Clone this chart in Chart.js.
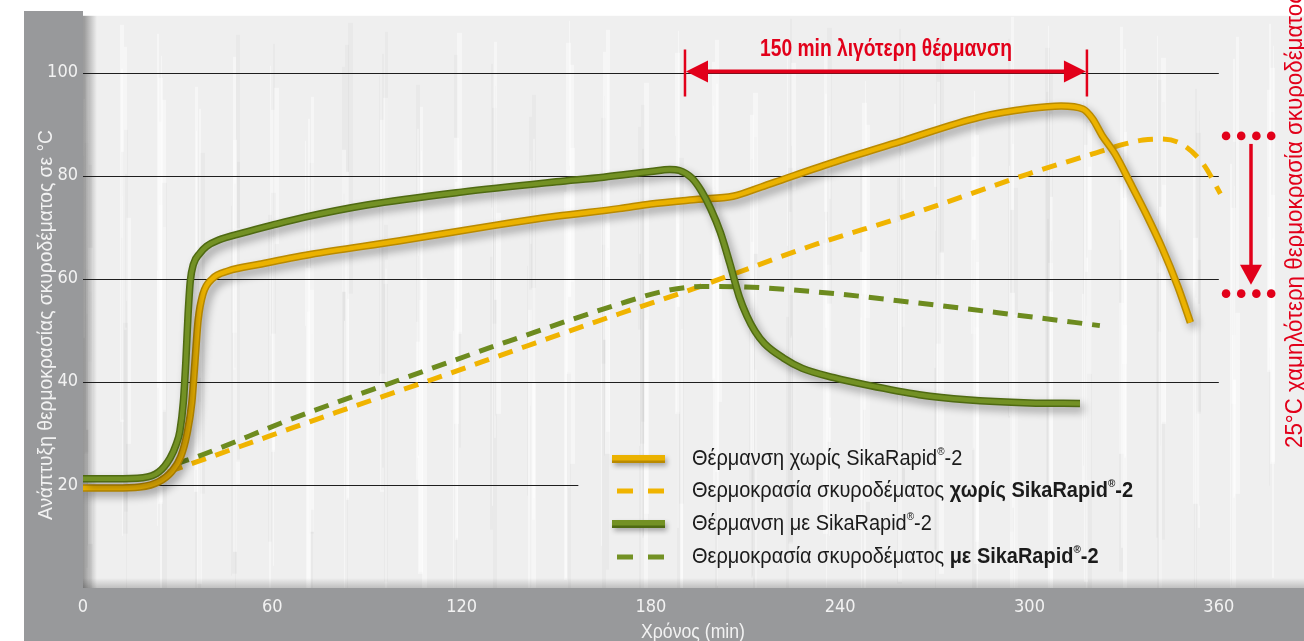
<!DOCTYPE html>
<html>
<head>
<meta charset="utf-8">
<script src="https://cdn.jsdelivr.net/npm/chart.js@4.4.1/dist/chart.umd.min.js"></script>
<style>
html,body{margin:0;padding:0;background:#fff;}
#wrap{width:1304px;height:641px;}
</style>
</head>
<body>
<div id="wrap"><canvas id="c" width="1304" height="641"></canvas></div>
<script>
// ---- data (minutes, °C) ----
const xTickValues = [0, 60, 120, 180, 240, 300, 360];
const yTickValues = [20, 40, 60, 80, 100];

const heatWithoutT = [0, 10, 18, 24, 28, 31, 33, 34.5, 35.5, 36.5, 38, 41, 46, 56, 72, 100, 130, 150, 170, 180, 195, 206, 215, 223, 240, 260, 284, 300, 310, 317, 320, 323, 327, 332, 337, 342, 347, 351];
const heatWithoutV = [19.4, 19.4, 19.6, 20.6, 22.5, 25.5, 30, 36, 44, 52, 57, 60, 61.5, 62.8, 64.7, 67.3, 70.3, 72.1, 73.6, 74.5, 75.4, 76, 77.8, 79.5, 83, 86.8, 91.3, 93, 93.5, 92.9, 91, 87.8, 84.3, 78.5, 72.5, 66, 58.5, 51.5];

const concreteWithoutT = [27, 50, 80, 110, 140, 170, 190, 204, 230, 262, 300, 320, 330, 336, 341, 348, 355, 360.5];
const concreteWithoutV = [22.5, 27.5, 34, 40.3, 46.8, 53.2, 57.3, 60.4, 66.2, 72.4, 80.4, 84.2, 86.1, 86.9, 87.1, 86.2, 82.3, 76.5];

const heatWithT = [0, 10, 19, 24, 27.6, 29.5, 30.7, 31.8, 32.6, 33.3, 34, 35, 37, 39.2, 43, 50.7, 60, 70, 90, 120, 150, 165, 180, 186, 189, 193, 196, 199, 202, 205, 208, 210.4, 213, 216, 222, 228, 238, 249, 265, 280, 300, 316];
const heatWithV = [21.2, 21.2, 21.4, 22.5, 25.2, 27.8, 30.4, 36, 44, 53, 59.5, 62.8, 64.9, 66.3, 67.5, 68.9, 70.4, 71.9, 74.3, 76.8, 78.8, 79.7, 80.8, 81.2, 81, 79.5, 77, 73.5, 69, 63, 56.5, 52.8, 49.8, 47.4, 44.6, 42.6, 40.8, 39.3, 37.5, 36.5, 35.9, 35.8];

const concreteWithT = [29, 35, 66.6, 100, 135, 170, 185, 196.5, 210, 223, 240, 263, 290, 322.3];
const concreteWithV = [24, 25.2, 32.9, 40.3, 47.9, 55.1, 57.7, 58.5, 58.4, 57.9, 57, 55.4, 53.4, 50.9];

const seriesLabels = [
  [{t:'Θέρμανση χωρίς SikaRapid'},{t:'®',sup:true},{t:'-2'}],
  [{t:'Θερμοκρασία σκυροδέματος '},{t:'χωρίς SikaRapid',b:true},{t:'®',sup:true,b:true},{t:'-2',b:true}],
  [{t:'Θέρμανση με SikaRapid'},{t:'®',sup:true},{t:'-2'}],
  [{t:'Θερμοκρασία σκυροδέματος '},{t:'με SikaRapid',b:true},{t:'®',sup:true,b:true},{t:'-2',b:true}]
];
const xTitle = 'Χρόνος (min)';
const yTitle = 'Ανάπτυξη θερμοκρασίας σκυροδέματος σε °C';
const spanLabel = '150 min λιγότερη θέρμανση';
const dropLabel = '25°C χαμηλότερη θερμοκρασία σκυροδέματος';

const pts = (t, v) => t.map((x, i) => ({x, y: v[i]}));

const FF = "'Liberation Sans','Arial',sans-serif";
const FT = "'Liberation Sans Narrow','DejaVu Sans Condensed',sans-serif";
const RED = '#e2001a';
const YEL = '#ebb200', YEL_D = '#b98a00';
const GRN = '#739124', GRN_D = '#4f6a12';

// draw text condensed horizontally to a given width
function fitText(ctx, s, x, y, font, width, align) {
  ctx.save();
  ctx.font = font;
  const w = ctx.measureText(s).width;
  const k = width / w;
  ctx.translate(x, y);
  ctx.scale(k, 1);
  ctx.textAlign = align || 'left';
  ctx.fillText(s, 0, 0);
  ctx.restore();
}

const decorPlugin = {
  id: 'decor',
  beforeDraw(chart) {
    const ctx = chart.ctx, a = chart.chartArea;
    ctx.save();
    ctx.fillStyle = '#ffffff';
    ctx.fillRect(0, 0, 1304, 641);
    ctx.fillStyle = '#efefef';
    ctx.fillRect(a.left, a.top, a.right - a.left, a.bottom - a.top);
    for (let i = 0; i < 300; i++) {
      const x = a.left + ((i * 37) % 1221) + (i % 7);
      const w = 1 + (i % 5);
      const s = Math.sin(i * 1.7);
      ctx.fillStyle = s > -0.3 ? 'rgba(255,255,255,0.45)' : 'rgba(0,0,0,0.025)';
      const y0 = a.top + ((i * 53) % 320);
      ctx.fillRect(x, y0, w, 140 + ((i * 29) % 300));
    }
    ctx.fillStyle = '#98999b';
    ctx.fillRect(24, 11, a.left - 24, 630);
    ctx.fillRect(24, a.bottom, 1304 - 24, 641 - a.bottom);
    let g = ctx.createLinearGradient(a.left, 0, a.left + 14, 0);
    g.addColorStop(0, 'rgba(0,0,0,0.38)');
    g.addColorStop(1, 'rgba(0,0,0,0)');
    ctx.fillStyle = g;
    ctx.fillRect(a.left, a.top, 14, a.bottom - a.top);
    g = ctx.createLinearGradient(0, a.bottom - 10, 0, a.bottom);
    g.addColorStop(0, 'rgba(0,0,0,0)');
    g.addColorStop(1, 'rgba(0,0,0,0.2)');
    ctx.fillStyle = g;
    ctx.fillRect(a.left, a.bottom - 10, a.right - a.left, 10);
    ctx.restore();
  },
  beforeDatasetsDraw(chart) {
    const ctx = chart.ctx, xs = chart.scales.x, ys = chart.scales.y;
    ctx.save();
    ctx.strokeStyle = '#1e1e1e';
    ctx.lineWidth = 1.2;
    yTickValues.forEach(v => {
      const y = Math.round(ys.getPixelForValue(v)) + 0.5;
      const xEnd = v === 20 ? xs.getPixelForValue(157) : xs.getPixelForValue(360);
      ctx.beginPath();
      ctx.moveTo(chart.chartArea.left, y);
      ctx.lineTo(xEnd, y);
      ctx.stroke();
    });
    ctx.restore();
  },
  beforeDatasetDraw(chart, args) {
    const ds = chart.data.datasets[args.index];
    if (ds.shadow) {
      const ctx = chart.ctx;
      ctx.save();
      ctx.shadowColor = 'rgba(0,0,0,0.33)';
      ctx.shadowBlur = 8;
      ctx.shadowOffsetX = 4;
      ctx.shadowOffsetY = 5;
      ds._sh = true;
    }
  },
  afterDatasetDraw(chart, args) {
    const ds = chart.data.datasets[args.index];
    if (ds._sh) { chart.ctx.restore(); ds._sh = false; }
  },
  afterDraw(chart) {
    const ctx = chart.ctx, xs = chart.scales.x, ys = chart.scales.y;
    ctx.save();
    ctx.textBaseline = 'middle';
    // axis titles
    ctx.fillStyle = '#f2f2f2';
    fitText(ctx, xTitle, 641, 632, '20px ' + FF, 104, 'left');
    ctx.save();
    ctx.translate(46, 520);
    ctx.rotate(-Math.PI / 2);
    fitText(ctx, yTitle, 0, 0, '20px ' + FF, 390, 'left');
    ctx.restore();

    // legend
    const lx0 = 612, lx1 = 665, tx = 692, rows = [459, 491, 524, 557];
    const drawSolid = (y, c, d) => {
      ctx.save();
      ctx.shadowColor = 'rgba(0,0,0,0.3)'; ctx.shadowBlur = 5; ctx.shadowOffsetX = 2; ctx.shadowOffsetY = 3;
      ctx.fillStyle = d; ctx.fillRect(lx0, y - 4, lx1 - lx0, 8);
      ctx.restore();
      ctx.fillStyle = c; ctx.fillRect(lx0, y - 4, lx1 - lx0, 5.5);
    };
    const drawDash = (y, c) => {
      ctx.fillStyle = c;
      ctx.fillRect(617, y - 2.5, 16, 5);
      ctx.fillRect(648, y - 2.5, 16, 5);
    };
    drawSolid(rows[0], YEL, YEL_D);
    drawDash(rows[1], '#f0b400');
    drawSolid(rows[2], GRN, GRN_D);
    drawDash(rows[3], GRN);
    const fs = 22;
    const fontOf = s => (s.b ? 'bold ' : '') + (s.sup ? fs * 0.5 : fs) + 'px ' + FF;
    let w2 = 0;
    seriesLabels[1].forEach(s => { ctx.font = fontOf(s); w2 += ctx.measureText(s.t).width; });
    const k = 441 / w2;
    seriesLabels.forEach((segs, i) => {
      ctx.save();
      ctx.translate(tx, rows[i]);
      ctx.scale(k, 1);
      let x = 0;
      segs.forEach(s => {
        ctx.font = fontOf(s);
        ctx.fillStyle = '#1b1b1b';
        ctx.textAlign = 'left';
        ctx.fillText(s.t, x, s.sup ? -7 : 0);
        x += ctx.measureText(s.t).width;
      });
      ctx.restore();
    });

    // red span annotation
    ctx.strokeStyle = RED; ctx.fillStyle = RED;
    const xa = xs.getPixelForValue(190.8), xb = xs.getPixelForValue(318.2);
    const ya = ys.getPixelForValue(100.2);
    ctx.lineWidth = 2.5;
    ctx.beginPath();
    ctx.moveTo(xa, ya - 22); ctx.lineTo(xa, ya + 25);
    ctx.moveTo(xb, ya - 22); ctx.lineTo(xb, ya + 25);
    ctx.stroke();
    ctx.lineWidth = 4;
    ctx.beginPath(); ctx.moveTo(xa + 18, ya); ctx.lineTo(xb - 18, ya); ctx.stroke();
    ctx.beginPath(); ctx.moveTo(xa + 1, ya); ctx.lineTo(xa + 23, ya - 11); ctx.lineTo(xa + 23, ya + 11); ctx.closePath(); ctx.fill();
    ctx.beginPath(); ctx.moveTo(xb - 1, ya); ctx.lineTo(xb - 23, ya - 11); ctx.lineTo(xb - 23, ya + 11); ctx.closePath(); ctx.fill();
    fitText(ctx, spanLabel, 760, ya - 22, 'bold 23px ' + FF, 252, 'left');

    // red drop annotation
    const yTop = ys.getPixelForValue(87.7), yBot = ys.getPixelForValue(57.1);
    [362.3, 367.1, 371.9, 376.6].forEach(t => {
      const x = xs.getPixelForValue(t);
      [yTop, yBot].forEach(y => { ctx.beginPath(); ctx.arc(x, y, 4.3, 0, Math.PI * 2); ctx.fill(); });
    });
    const xv = xs.getPixelForValue(370.2);
    ctx.lineWidth = 3.5;
    ctx.beginPath(); ctx.moveTo(xv, yTop + 8); ctx.lineTo(xv, yBot - 26); ctx.stroke();
    ctx.beginPath(); ctx.moveTo(xv, yBot - 9); ctx.lineTo(xv - 11, yBot - 29); ctx.lineTo(xv + 11, yBot - 29); ctx.closePath(); ctx.fill();
    ctx.save();
    ctx.translate(1296, 448);
    ctx.rotate(-Math.PI / 2);
    fitText(ctx, dropLabel, 0, 0, '23px ' + FF, 455, 'left');
    ctx.restore();
    ctx.restore();
  }
};

new Chart(document.getElementById('c'), {
  type: 'line',
  data: {
    datasets: [
      {data: pts(heatWithT, heatWithV), borderColor: GRN, borderWidth: 4.5, order: 0},
      {data: pts(heatWithT, heatWithV), borderColor: GRN_D, borderWidth: 7.5, order: 1, shadow: true},
      {data: pts(heatWithoutT, heatWithoutV), borderColor: YEL, borderWidth: 4.5, order: 2},
      {data: pts(heatWithoutT, heatWithoutV), borderColor: YEL_D, borderWidth: 7.5, order: 3, shadow: true},
      {data: pts(concreteWithT, concreteWithV), borderColor: '#6d8b1f', borderWidth: 5, borderDash: [15, 10], order: 4},
      {data: pts(concreteWithoutT, concreteWithoutV), borderColor: '#f0b400', borderWidth: 5, borderDash: [15, 10], order: 5}
    ]
  },
  options: {
    responsive: false,
    animation: false,
    layout: {padding: {top: 11, left: 0, right: 0, bottom: 0}},
    elements: {point: {radius: 0}, line: {cubicInterpolationMode: 'monotone', borderCapStyle: 'butt', fill: false}},
    plugins: {legend: {display: false}, tooltip: {enabled: false}},
    scales: {
      x: {
        type: 'linear', min: 0, max: 387,
        grid: {display: false, drawTicks: false}, border: {display: false},
        afterBuildTicks: s => { s.ticks = xTickValues.map(v => ({value: v})); },
        afterFit: s => { s.height = 53; },
        ticks: {color: '#f2f2f2', font: {family: FT, size: 18}, padding: 9, maxRotation: 0, autoSkip: false}
      },
      y: {
        type: 'linear', min: 0, max: 111,
        grid: {display: false, drawTicks: false}, border: {display: false},
        afterBuildTicks: s => { s.ticks = yTickValues.map(v => ({value: v})); },
        afterFit: s => { s.width = 83; },
        ticks: {color: '#f2f2f2', font: {family: FT, size: 18}, padding: 5}
      }
    }
  },
  plugins: [decorPlugin]
});
</script>
</body>
</html>
